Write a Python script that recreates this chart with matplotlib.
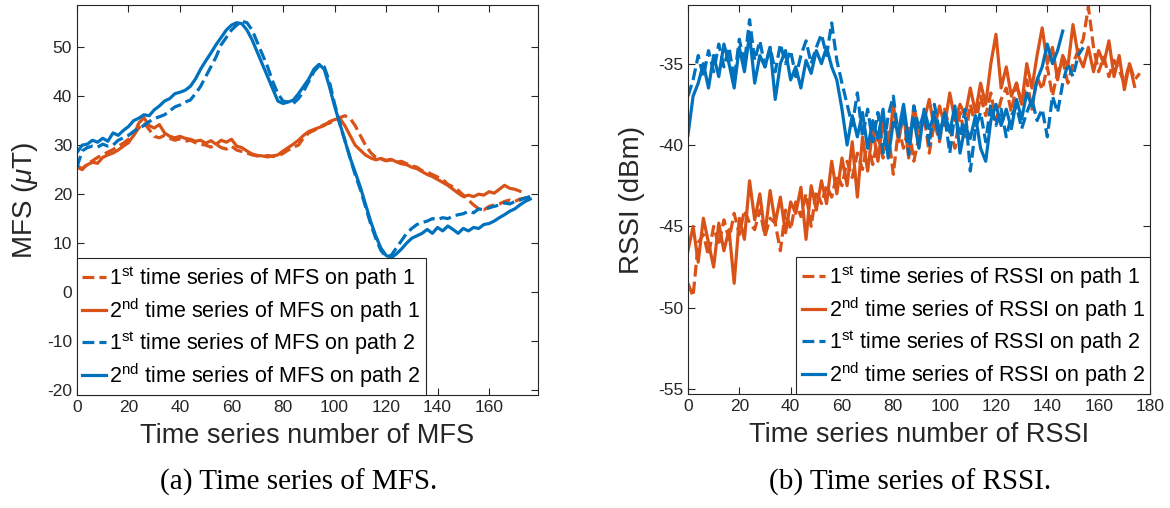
import numpy as np
import matplotlib
matplotlib.use("Agg")
import matplotlib.pyplot as plt

plt.rcParams['font.family'] = ['Liberation Sans', 'DejaVu Sans']
plt.rcParams['axes.unicode_minus'] = False
plt.rcParams['mathtext.fontset'] = 'custom'
plt.rcParams['mathtext.rm'] = 'Liberation Sans'
plt.rcParams['mathtext.it'] = 'Liberation Sans:italic'

ORANGE = '#D95319'
BLUE = '#0072BD'
AXC = '#262626'

# ---- MFS data (sampled every 2 steps) ----
mfs_p1_s1 = [25.5, 25.0, 26.2, 26.8, 27.5, 28.0, 28.6, 29.1, 29.8, 30.4, 31.2, 32.0, 33.5, 34.6, 33.2,
             31.8, 31.5, 32.0, 31.4, 31.0, 31.3, 30.8, 31.0, 30.5, 30.2, 30.0, 29.6, 30.2, 29.5, 29.2,
             29.8, 29.0, 28.7, 28.4, 28.0, 27.8, 27.6, 27.9, 27.7, 27.8, 28.3, 29.0, 29.6, 30.0, 31.5,
             32.5, 33.0, 33.6, 34.2, 34.5, 35.0, 35.6, 36.0, 35.5, 34.0, 32.0, 30.0, 28.5, 27.5, 27.2,
             26.8, 27.0, 26.5, 26.7, 26.2, 25.8, 25.5, 24.8, 24.5, 24.0, 23.5, 23.0, 22.0, 21.5, 20.8,
             19.8, 18.8, 17.8, 17.0, 16.8, 17.5, 17.8, 18.0, 18.5, 18.8, 18.5, 19.0, 19.2, 19.5]
mfs_p1_s2 = [25.8, 25.2, 26.0, 26.5, 26.3, 27.5, 28.0, 28.4, 29.0, 29.8, 30.5, 32.0, 34.5, 35.6, 34.0,
             33.5, 34.2, 32.5, 31.8, 31.5, 31.8, 31.4, 31.2, 30.8, 31.0, 30.4, 30.9, 30.2, 31.0, 30.6,
             31.2, 29.8, 29.5, 28.8, 28.2, 27.9, 27.8, 27.6, 27.8, 28.0, 28.8, 29.5, 30.2, 31.0, 32.0,
             32.8, 33.2, 33.6, 34.0, 34.8, 35.2, 35.5, 34.0, 32.0, 30.0, 29.0, 28.0, 27.4, 27.0, 27.3,
             26.9, 27.1, 26.6, 26.2, 26.0, 25.5, 25.2, 24.6, 24.0, 23.6, 23.0, 22.4, 21.8, 21.0, 20.2,
             19.5, 19.8, 19.5, 20.0, 19.8, 20.5, 20.2, 21.0, 21.8, 21.2, 21.0, 20.6]
mfs_p2_s1 = [25.5, 28.8, 29.5, 29.8, 29.6, 30.2, 29.8, 30.0, 31.0, 31.5, 32.0, 32.8, 33.5, 34.0, 34.8,
             35.4, 35.8, 36.2, 37.0, 37.8, 38.2, 38.8, 39.2, 40.5, 42.0, 44.0, 46.0, 48.0, 50.5, 52.0,
             53.5, 54.5, 55.3, 55.0, 53.5, 51.0, 48.5, 46.0, 43.0, 40.5, 39.0, 38.8, 38.5, 39.5, 41.0,
             43.0, 45.0, 46.2, 46.0, 43.0, 38.5, 34.5, 31.0, 27.5, 24.0, 21.0, 17.5, 14.0, 11.0, 8.5,
             7.2, 7.5, 9.0, 10.5, 12.0, 13.0, 13.8, 14.2, 14.5, 15.0, 14.8, 15.2, 15.0, 15.5, 15.8,
             16.0, 16.5, 16.2, 17.0, 16.8, 17.2, 17.5, 17.8, 18.2, 18.0, 18.5, 18.8, 19.2, 19.5]
mfs_p2_s2 = [28.5, 30.0, 30.2, 31.0, 30.6, 31.4, 30.8, 32.5, 32.0, 33.0, 33.8, 35.0, 35.5, 36.2, 36.0,
             37.2, 38.0, 39.0, 39.5, 40.5, 40.8, 41.2, 42.0, 43.5, 45.5, 47.2, 48.8, 50.5, 52.0, 53.5,
             54.5, 55.0, 54.8, 53.5, 51.5, 49.0, 46.5, 44.0, 41.5, 39.0, 38.5, 38.8, 39.2, 40.5, 42.0,
             43.5, 45.5, 46.5, 45.5, 42.0, 38.0, 34.5, 31.0, 27.5, 24.5, 21.5, 18.0, 14.5, 11.5, 9.0,
             7.5, 7.0, 7.8, 8.8, 10.0, 11.0, 11.5, 12.0, 12.8, 12.0, 13.2, 12.5, 13.5, 12.8, 12.0,
             13.0, 12.5, 13.2, 13.0, 13.8, 14.0, 14.5, 15.2, 15.8, 16.5, 17.0, 17.8, 18.5, 19.0]

# ---- RSSI data (sampled every 2 steps) ----
rssi_p1_s1 = [-48.5, -49.3, -46.0, -45.5, -46.8, -45.0, -46.2, -44.6, -45.8, -44.2, -45.5, -44.0, -44.8,
              -45.2, -44.0, -45.6, -44.5, -44.8, -46.5, -44.0, -45.2, -43.5, -44.4, -43.0, -45.0, -42.8,
              -43.6, -42.5, -43.2, -41.8, -42.5, -41.0, -42.0, -40.5, -41.5, -39.8, -41.2, -39.5, -40.8,
              -39.2, -41.8, -39.0, -40.2, -38.8, -41.0, -39.5, -38.2, -40.5, -38.6, -39.8, -37.8, -39.0,
              -40.2, -38.0, -39.5, -37.5, -38.8, -37.0, -38.2, -36.8, -38.5, -37.2, -36.5, -38.0, -36.2,
              -37.5, -36.0, -37.8, -35.8, -36.6, -35.2, -37.0, -35.5, -34.8, -36.2, -35.0, -34.2, -33.5,
              -31.5, -34.0, -35.5, -34.6, -35.8, -34.8, -35.4, -36.2, -35.0, -36.0, -35.6]
rssi_p1_s2 = [-46.5, -45.0, -47.2, -44.5, -46.0, -47.5, -44.8, -46.5, -45.2, -48.5, -44.5, -45.8, -42.2,
              -44.6, -43.0, -45.5, -42.8, -44.8, -43.2, -45.4, -43.5, -44.2, -42.6, -45.8, -42.5, -44.0,
              -42.2, -43.6, -41.0, -43.0, -40.8, -42.5, -39.8, -43.2, -39.5, -41.6, -39.0, -41.0, -38.5,
              -40.5, -37.5, -39.8, -38.0, -40.8, -37.6, -39.2, -38.5, -37.2, -39.0, -37.6, -38.8, -36.8,
              -38.5, -37.5, -38.2, -36.5, -38.0, -36.2, -37.5, -35.0, -33.2, -36.5, -35.2, -37.0, -36.2,
              -37.5, -35.0, -36.5, -34.5, -32.8, -35.0, -34.0, -36.0, -34.5, -35.2, -32.6, -34.5, -35.2,
              -34.0, -35.5, -34.2, -35.0, -33.6, -35.8, -34.5, -36.6, -35.0, -36.4]
rssi_p2_s1 = [-37.0, -36.0, -34.5, -35.8, -34.2, -35.5, -33.8, -35.2, -34.0, -36.0, -33.5, -35.0, -32.3,
              -34.8, -33.6, -35.2, -34.0, -35.5, -33.8, -35.0, -34.2, -35.8, -34.5, -33.6, -35.0, -34.0,
              -33.2, -34.5, -32.5, -34.8, -36.2, -37.5, -38.8, -36.8, -39.5, -37.8, -39.8, -38.0, -40.5,
              -38.2, -37.0, -39.5, -38.0, -40.6, -37.6, -39.0, -38.0, -40.0, -37.5, -39.2, -38.2, -40.5,
              -38.0, -39.5, -37.8, -41.6, -39.0, -38.0, -39.8, -37.5, -38.8, -37.8, -39.5, -38.2, -37.6,
              -39.0, -38.0, -37.2, -38.5, -37.8, -39.5, -37.0, -38.0, -36.2, -35.0, -35.8, -34.5, -34.0]
rssi_p2_s2 = [-39.4, -37.0, -36.2, -35.0, -36.5, -34.5, -35.8, -33.8, -35.0, -36.5, -34.0, -35.5, -33.2,
              -36.2, -34.5, -35.2, -34.0, -37.2, -35.0, -34.2, -36.0, -35.2, -36.5, -34.8, -35.6, -34.2,
              -35.0, -34.0, -35.2, -36.0, -37.8, -40.0, -38.2, -39.5, -38.0, -40.2, -38.5, -39.6, -37.8,
              -40.8, -38.6, -39.2, -37.5, -39.8, -38.4, -40.2, -37.8, -39.0, -38.2, -39.6, -38.0, -39.2,
              -37.6, -40.5, -38.8, -39.6, -38.2, -40.2, -41.0, -38.5, -37.5, -38.8, -37.8, -39.0, -37.2,
              -38.4, -36.8, -37.6, -36.0, -35.2, -33.8, -35.0, -34.2, -33.0]

STEP = 2


def xs(v):
    return np.arange(len(v)) * STEP


fig = plt.figure(figsize=(11.7, 5.08), dpi=100)
ax1 = fig.add_axes([0.0658, 0.2224, 0.394, 0.7677])
ax2 = fig.add_axes([0.588, 0.2244, 0.3949, 0.7657])

lw = 2.3
ax1.plot(xs(mfs_p1_s1), mfs_p1_s1, '--', color=ORANGE, lw=lw, label=r'1$^{\rm st}$ time series of MFS on path 1')
ax1.plot(xs(mfs_p1_s2), mfs_p1_s2, '-', color=ORANGE, lw=lw, label=r'2$^{\rm nd}$ time series of MFS on path 1')
ax1.plot(xs(mfs_p2_s1), mfs_p2_s1, '--', color=BLUE, lw=lw, label=r'1$^{\rm st}$ time series of MFS on path 2')
ax1.plot(xs(mfs_p2_s2), mfs_p2_s2, '-', color=BLUE, lw=lw, label=r'2$^{\rm nd}$ time series of MFS on path 2')

ax2.plot(xs(rssi_p1_s1), rssi_p1_s1, '--', color=ORANGE, lw=lw, label=r'1$^{\rm st}$ time series of RSSI on path 1')
ax2.plot(xs(rssi_p1_s2), rssi_p1_s2, '-', color=ORANGE, lw=lw, label=r'2$^{\rm nd}$ time series of RSSI on path 1')
ax2.plot(xs(rssi_p2_s1), rssi_p2_s1, '--', color=BLUE, lw=lw, label=r'1$^{\rm st}$ time series of RSSI on path 2')
ax2.plot(xs(rssi_p2_s2), rssi_p2_s2, '-', color=BLUE, lw=lw, label=r'2$^{\rm nd}$ time series of RSSI on path 2')

ax1.set_xlim(0, 179)
ax1.set_ylim(-21, 58.6)
ax1.set_xticks(np.arange(0, 161, 20))
ax1.set_yticks(np.arange(-20, 51, 10))
ax1.set_xlabel('Time series number of MFS', fontsize=19.5, color=AXC, labelpad=6)
ax1.set_ylabel(r'MFS ($\mu$T)', fontsize=20, color=AXC, labelpad=5)

ax2.set_xlim(0, 180)
ax2.set_ylim(-55.3, -31.4)
ax2.set_xticks(np.arange(0, 181, 20))
ax2.set_yticks(np.arange(-55, -34, 5))
ax2.set_xlabel('Time series number of RSSI', fontsize=19.5, color=AXC, labelpad=6)
ax2.set_ylabel('RSSI (dBm)', fontsize=20, color=AXC, labelpad=9)

for ax in (ax1, ax2):
    ax.tick_params(direction='in', top=True, right=True, labelsize=12.5, colors=AXC, length=5, width=0.8)
    for s in ax.spines.values():
        s.set_color(AXC)
        s.set_linewidth(0.8)

leg_kw = dict(fontsize=15.5, handlelength=1.1, handletextpad=0.15, labelspacing=0.2,
              borderaxespad=0, borderpad=0.25, fancybox=False, framealpha=1, edgecolor=AXC)
l1 = ax1.legend(loc='lower left', **leg_kw)
l2 = ax2.legend(loc='lower right', **leg_kw)
for l in (l1, l2):
    l.get_frame().set_linewidth(0.8)

fig.text(0.2556, 0.051, '(a) Time series of MFS.', ha='center', va='center',
         fontsize=21, family='Liberation Serif')
fig.text(0.7778, 0.051, '(b) Time series of RSSI.', ha='center', va='center',
         fontsize=21, family='Liberation Serif')

fig.savefig('out.png', dpi=100)
